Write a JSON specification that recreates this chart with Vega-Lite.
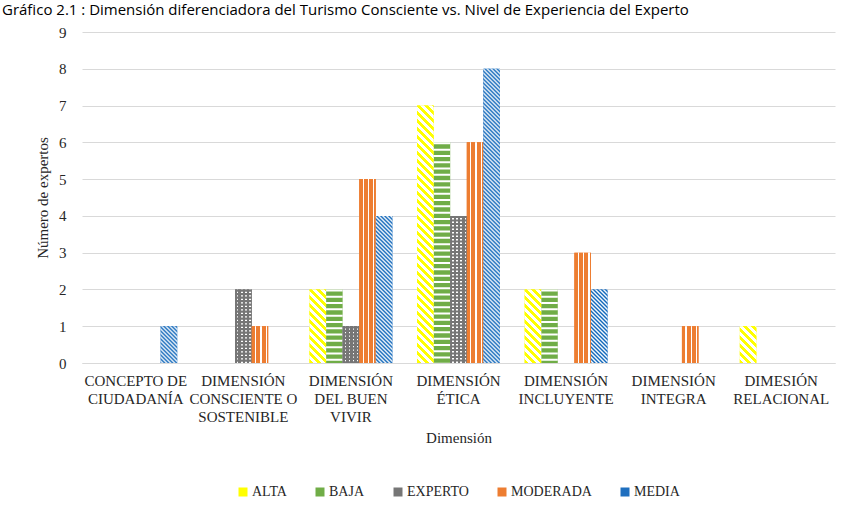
{
"$schema": "https://vega.github.io/schema/vega-lite/v6.json",
"width": 753,
"height": 331,
"autosize": {"type": "none"},
"padding": {"left": 82, "top": 32, "right": 14, "bottom": 151},
"background": "white",
"title": {"text": "Gráfico 2.1 : Dimensión diferenciadora del Turismo Consciente vs. Nivel de Experiencia del Experto", "anchor": "start", "frame": "group", "orient": "top", "font": "Open Sans", "fontSize": 15, "fontWeight": "normal", "color": "#000000", "dx": -80, "dy": 5, "offset": 0, "baseline": "alphabetic"},
"params": [
{"name": "altaStops", "value": [
{"offset":0,"color":"#ff0"},{"offset":0.0125,"color":"#ff0"},{"offset":0.0125,"color":"#fff"},{"offset":0.025,"color":"#fff"},
{"offset":0.025,"color":"#ff0"},{"offset":0.0375,"color":"#ff0"},{"offset":0.0375,"color":"#fff"},{"offset":0.05,"color":"#fff"},
{"offset":0.05,"color":"#ff0"},{"offset":0.0625,"color":"#ff0"},{"offset":0.0625,"color":"#fff"},{"offset":0.075,"color":"#fff"},
{"offset":0.075,"color":"#ff0"},{"offset":0.0875,"color":"#ff0"},{"offset":0.0875,"color":"#fff"},{"offset":0.1,"color":"#fff"},
{"offset":0.1,"color":"#ff0"},{"offset":0.1125,"color":"#ff0"},{"offset":0.1125,"color":"#fff"},{"offset":0.125,"color":"#fff"},
{"offset":0.125,"color":"#ff0"},{"offset":0.1375,"color":"#ff0"},{"offset":0.1375,"color":"#fff"},{"offset":0.15,"color":"#fff"},
{"offset":0.15,"color":"#ff0"},{"offset":0.1625,"color":"#ff0"},{"offset":0.1625,"color":"#fff"},{"offset":0.175,"color":"#fff"},
{"offset":0.175,"color":"#ff0"},{"offset":0.1875,"color":"#ff0"},{"offset":0.1875,"color":"#fff"},{"offset":0.2,"color":"#fff"},
{"offset":0.2,"color":"#ff0"},{"offset":0.2125,"color":"#ff0"},{"offset":0.2125,"color":"#fff"},{"offset":0.225,"color":"#fff"},
{"offset":0.225,"color":"#ff0"},{"offset":0.2375,"color":"#ff0"},{"offset":0.2375,"color":"#fff"},{"offset":0.25,"color":"#fff"},
{"offset":0.25,"color":"#ff0"},{"offset":0.2625,"color":"#ff0"},{"offset":0.2625,"color":"#fff"},{"offset":0.275,"color":"#fff"},
{"offset":0.275,"color":"#ff0"},{"offset":0.2875,"color":"#ff0"},{"offset":0.2875,"color":"#fff"},{"offset":0.3,"color":"#fff"},
{"offset":0.3,"color":"#ff0"},{"offset":0.3125,"color":"#ff0"},{"offset":0.3125,"color":"#fff"},{"offset":0.325,"color":"#fff"},
{"offset":0.325,"color":"#ff0"},{"offset":0.3375,"color":"#ff0"},{"offset":0.3375,"color":"#fff"},{"offset":0.35,"color":"#fff"},
{"offset":0.35,"color":"#ff0"},{"offset":0.3625,"color":"#ff0"},{"offset":0.3625,"color":"#fff"},{"offset":0.375,"color":"#fff"},
{"offset":0.375,"color":"#ff0"},{"offset":0.3875,"color":"#ff0"},{"offset":0.3875,"color":"#fff"},{"offset":0.4,"color":"#fff"},
{"offset":0.4,"color":"#ff0"},{"offset":0.4125,"color":"#ff0"},{"offset":0.4125,"color":"#fff"},{"offset":0.425,"color":"#fff"},
{"offset":0.425,"color":"#ff0"},{"offset":0.4375,"color":"#ff0"},{"offset":0.4375,"color":"#fff"},{"offset":0.45,"color":"#fff"},
{"offset":0.45,"color":"#ff0"},{"offset":0.4625,"color":"#ff0"},{"offset":0.4625,"color":"#fff"},{"offset":0.475,"color":"#fff"},
{"offset":0.475,"color":"#ff0"},{"offset":0.4875,"color":"#ff0"},{"offset":0.4875,"color":"#fff"},{"offset":0.5,"color":"#fff"},
{"offset":0.5,"color":"#ff0"},{"offset":0.5125,"color":"#ff0"},{"offset":0.5125,"color":"#fff"},{"offset":0.525,"color":"#fff"},
{"offset":0.525,"color":"#ff0"},{"offset":0.5375,"color":"#ff0"},{"offset":0.5375,"color":"#fff"},{"offset":0.55,"color":"#fff"},
{"offset":0.55,"color":"#ff0"},{"offset":0.5625,"color":"#ff0"},{"offset":0.5625,"color":"#fff"},{"offset":0.575,"color":"#fff"},
{"offset":0.575,"color":"#ff0"},{"offset":0.5875,"color":"#ff0"},{"offset":0.5875,"color":"#fff"},{"offset":0.6,"color":"#fff"},
{"offset":0.6,"color":"#ff0"},{"offset":0.6125,"color":"#ff0"},{"offset":0.6125,"color":"#fff"},{"offset":0.625,"color":"#fff"},
{"offset":0.625,"color":"#ff0"},{"offset":0.6375,"color":"#ff0"},{"offset":0.6375,"color":"#fff"},{"offset":0.65,"color":"#fff"},
{"offset":0.65,"color":"#ff0"},{"offset":0.6625,"color":"#ff0"},{"offset":0.6625,"color":"#fff"},{"offset":0.675,"color":"#fff"},
{"offset":0.675,"color":"#ff0"},{"offset":0.6875,"color":"#ff0"},{"offset":0.6875,"color":"#fff"},{"offset":0.7,"color":"#fff"},
{"offset":0.7,"color":"#ff0"},{"offset":0.7125,"color":"#ff0"},{"offset":0.7125,"color":"#fff"},{"offset":0.725,"color":"#fff"},
{"offset":0.725,"color":"#ff0"},{"offset":0.7375,"color":"#ff0"},{"offset":0.7375,"color":"#fff"},{"offset":0.75,"color":"#fff"},
{"offset":0.75,"color":"#ff0"},{"offset":0.7625,"color":"#ff0"},{"offset":0.7625,"color":"#fff"},{"offset":0.775,"color":"#fff"},
{"offset":0.775,"color":"#ff0"},{"offset":0.7875,"color":"#ff0"},{"offset":0.7875,"color":"#fff"},{"offset":0.8,"color":"#fff"},
{"offset":0.8,"color":"#ff0"},{"offset":0.8125,"color":"#ff0"},{"offset":0.8125,"color":"#fff"},{"offset":0.825,"color":"#fff"},
{"offset":0.825,"color":"#ff0"},{"offset":0.8375,"color":"#ff0"},{"offset":0.8375,"color":"#fff"},{"offset":0.85,"color":"#fff"},
{"offset":0.85,"color":"#ff0"},{"offset":0.8625,"color":"#ff0"},{"offset":0.8625,"color":"#fff"},{"offset":0.875,"color":"#fff"},
{"offset":0.875,"color":"#ff0"},{"offset":0.8875,"color":"#ff0"},{"offset":0.8875,"color":"#fff"},{"offset":0.9,"color":"#fff"}
]},
{"name": "mediaStops", "value": [
{"offset":0,"color":"#0a63b8"},{"offset":0.00625,"color":"#fff"},{"offset":0.0125,"color":"#0a63b8"},{"offset":0.01875,"color":"#fff"},{"offset":0.025,"color":"#0a63b8"},{"offset":0.03125,"color":"#fff"},{"offset":0.0375,"color":"#0a63b8"},{"offset":0.04375,"color":"#fff"},
{"offset":0.05,"color":"#0a63b8"},{"offset":0.05625,"color":"#fff"},{"offset":0.0625,"color":"#0a63b8"},{"offset":0.06875,"color":"#fff"},{"offset":0.075,"color":"#0a63b8"},{"offset":0.08125,"color":"#fff"},{"offset":0.0875,"color":"#0a63b8"},{"offset":0.09375,"color":"#fff"},
{"offset":0.1,"color":"#0a63b8"},{"offset":0.10625,"color":"#fff"},{"offset":0.1125,"color":"#0a63b8"},{"offset":0.11875,"color":"#fff"},{"offset":0.125,"color":"#0a63b8"},{"offset":0.13125,"color":"#fff"},{"offset":0.1375,"color":"#0a63b8"},{"offset":0.14375,"color":"#fff"},
{"offset":0.15,"color":"#0a63b8"},{"offset":0.15625,"color":"#fff"},{"offset":0.1625,"color":"#0a63b8"},{"offset":0.16875,"color":"#fff"},{"offset":0.175,"color":"#0a63b8"},{"offset":0.18125,"color":"#fff"},{"offset":0.1875,"color":"#0a63b8"},{"offset":0.19375,"color":"#fff"},
{"offset":0.2,"color":"#0a63b8"},{"offset":0.20625,"color":"#fff"},{"offset":0.2125,"color":"#0a63b8"},{"offset":0.21875,"color":"#fff"},{"offset":0.225,"color":"#0a63b8"},{"offset":0.23125,"color":"#fff"},{"offset":0.2375,"color":"#0a63b8"},{"offset":0.24375,"color":"#fff"},
{"offset":0.25,"color":"#0a63b8"},{"offset":0.25625,"color":"#fff"},{"offset":0.2625,"color":"#0a63b8"},{"offset":0.26875,"color":"#fff"},{"offset":0.275,"color":"#0a63b8"},{"offset":0.28125,"color":"#fff"},{"offset":0.2875,"color":"#0a63b8"},{"offset":0.29375,"color":"#fff"},
{"offset":0.3,"color":"#0a63b8"},{"offset":0.30625,"color":"#fff"},{"offset":0.3125,"color":"#0a63b8"},{"offset":0.31875,"color":"#fff"},{"offset":0.325,"color":"#0a63b8"},{"offset":0.33125,"color":"#fff"},{"offset":0.3375,"color":"#0a63b8"},{"offset":0.34375,"color":"#fff"},
{"offset":0.35,"color":"#0a63b8"},{"offset":0.35625,"color":"#fff"},{"offset":0.3625,"color":"#0a63b8"},{"offset":0.36875,"color":"#fff"},{"offset":0.375,"color":"#0a63b8"},{"offset":0.38125,"color":"#fff"},{"offset":0.3875,"color":"#0a63b8"},{"offset":0.39375,"color":"#fff"},
{"offset":0.4,"color":"#0a63b8"},{"offset":0.40625,"color":"#fff"},{"offset":0.4125,"color":"#0a63b8"},{"offset":0.41875,"color":"#fff"},{"offset":0.425,"color":"#0a63b8"},{"offset":0.43125,"color":"#fff"},{"offset":0.4375,"color":"#0a63b8"},{"offset":0.44375,"color":"#fff"},
{"offset":0.45,"color":"#0a63b8"},{"offset":0.45625,"color":"#fff"},{"offset":0.4625,"color":"#0a63b8"},{"offset":0.46875,"color":"#fff"},{"offset":0.475,"color":"#0a63b8"},{"offset":0.48125,"color":"#fff"},{"offset":0.4875,"color":"#0a63b8"},{"offset":0.49375,"color":"#fff"},
{"offset":0.5,"color":"#0a63b8"},{"offset":0.50625,"color":"#fff"},{"offset":0.5125,"color":"#0a63b8"},{"offset":0.51875,"color":"#fff"},{"offset":0.525,"color":"#0a63b8"},{"offset":0.53125,"color":"#fff"},{"offset":0.5375,"color":"#0a63b8"},{"offset":0.54375,"color":"#fff"},
{"offset":0.55,"color":"#0a63b8"},{"offset":0.55625,"color":"#fff"},{"offset":0.5625,"color":"#0a63b8"},{"offset":0.56875,"color":"#fff"},{"offset":0.575,"color":"#0a63b8"},{"offset":0.58125,"color":"#fff"},{"offset":0.5875,"color":"#0a63b8"},{"offset":0.59375,"color":"#fff"},
{"offset":0.6,"color":"#0a63b8"},{"offset":0.60625,"color":"#fff"},{"offset":0.6125,"color":"#0a63b8"},{"offset":0.61875,"color":"#fff"},{"offset":0.625,"color":"#0a63b8"},{"offset":0.63125,"color":"#fff"},{"offset":0.6375,"color":"#0a63b8"},{"offset":0.64375,"color":"#fff"},
{"offset":0.65,"color":"#0a63b8"},{"offset":0.65625,"color":"#fff"},{"offset":0.6625,"color":"#0a63b8"},{"offset":0.66875,"color":"#fff"},{"offset":0.675,"color":"#0a63b8"},{"offset":0.68125,"color":"#fff"},{"offset":0.6875,"color":"#0a63b8"},{"offset":0.69375,"color":"#fff"},
{"offset":0.7,"color":"#0a63b8"},{"offset":0.70625,"color":"#fff"},{"offset":0.7125,"color":"#0a63b8"},{"offset":0.71875,"color":"#fff"},{"offset":0.725,"color":"#0a63b8"},{"offset":0.73125,"color":"#fff"},{"offset":0.7375,"color":"#0a63b8"},{"offset":0.74375,"color":"#fff"},
{"offset":0.75,"color":"#0a63b8"},{"offset":0.75625,"color":"#fff"},{"offset":0.7625,"color":"#0a63b8"},{"offset":0.76875,"color":"#fff"},{"offset":0.775,"color":"#0a63b8"},{"offset":0.78125,"color":"#fff"},{"offset":0.7875,"color":"#0a63b8"},{"offset":0.79375,"color":"#fff"},
{"offset":0.8,"color":"#0a63b8"},{"offset":0.80625,"color":"#fff"},{"offset":0.8125,"color":"#0a63b8"},{"offset":0.81875,"color":"#fff"},{"offset":0.825,"color":"#0a63b8"},{"offset":0.83125,"color":"#fff"},{"offset":0.8375,"color":"#0a63b8"},{"offset":0.84375,"color":"#fff"},
{"offset":0.85,"color":"#0a63b8"},{"offset":0.85625,"color":"#fff"},{"offset":0.8625,"color":"#0a63b8"},{"offset":0.86875,"color":"#fff"},{"offset":0.875,"color":"#0a63b8"},{"offset":0.88125,"color":"#fff"},{"offset":0.8875,"color":"#0a63b8"},{"offset":0.89375,"color":"#fff"},
{"offset":0.9,"color":"#0a63b8"},{"offset":0.90625,"color":"#fff"},{"offset":0.9125,"color":"#0a63b8"},{"offset":0.91875,"color":"#fff"},{"offset":0.925,"color":"#0a63b8"},{"offset":0.93125,"color":"#fff"},{"offset":0.9375,"color":"#0a63b8"},{"offset":0.94375,"color":"#fff"},
{"offset":0.95,"color":"#0a63b8"},{"offset":0.95625,"color":"#fff"},{"offset":0.9625,"color":"#0a63b8"},{"offset":0.96875,"color":"#fff"},{"offset":0.975,"color":"#0a63b8"},{"offset":0.98125,"color":"#fff"},{"offset":0.9875,"color":"#0a63b8"},{"offset":0.99375,"color":"#fff"},
{"offset":1,"color":"#0a63b8"}
]}
],
"data": {"values": [
{"dim": "CONCEPTO DE CIUDADANÍA", "nivel": "MEDIA", "n": 1},
{"dim": "DIMENSIÓN CONSCIENTE O SOSTENIBLE", "nivel": "EXPERTO", "n": 2},
{"dim": "DIMENSIÓN CONSCIENTE O SOSTENIBLE", "nivel": "MODERADA", "n": 1},
{"dim": "DIMENSIÓN DEL BUEN VIVIR", "nivel": "ALTA", "n": 2},
{"dim": "DIMENSIÓN DEL BUEN VIVIR", "nivel": "BAJA", "n": 2},
{"dim": "DIMENSIÓN DEL BUEN VIVIR", "nivel": "EXPERTO", "n": 1},
{"dim": "DIMENSIÓN DEL BUEN VIVIR", "nivel": "MODERADA", "n": 5},
{"dim": "DIMENSIÓN DEL BUEN VIVIR", "nivel": "MEDIA", "n": 4},
{"dim": "DIMENSIÓN ÉTICA", "nivel": "ALTA", "n": 7},
{"dim": "DIMENSIÓN ÉTICA", "nivel": "BAJA", "n": 6},
{"dim": "DIMENSIÓN ÉTICA", "nivel": "EXPERTO", "n": 4},
{"dim": "DIMENSIÓN ÉTICA", "nivel": "MODERADA", "n": 6},
{"dim": "DIMENSIÓN ÉTICA", "nivel": "MEDIA", "n": 8},
{"dim": "DIMENSIÓN INCLUYENTE", "nivel": "ALTA", "n": 2},
{"dim": "DIMENSIÓN INCLUYENTE", "nivel": "BAJA", "n": 2},
{"dim": "DIMENSIÓN INCLUYENTE", "nivel": "MODERADA", "n": 3},
{"dim": "DIMENSIÓN INCLUYENTE", "nivel": "MEDIA", "n": 2},
{"dim": "DIMENSIÓN INTEGRA", "nivel": "MODERADA", "n": 1},
{"dim": "DIMESIÓN RELACIONAL", "nivel": "ALTA", "n": 1}
]},
"encoding": {
"x": {"field": "dim", "type": "nominal", "title": "Dimensión",
  "scale": {"domain": ["CONCEPTO DE CIUDADANÍA", "DIMENSIÓN CONSCIENTE O SOSTENIBLE", "DIMENSIÓN DEL BUEN VIVIR", "DIMENSIÓN ÉTICA", "DIMENSIÓN INCLUYENTE", "DIMENSIÓN INTEGRA", "DIMESIÓN RELACIONAL"], "paddingInner": 0.23, "paddingOuter": 0.115},
  "axis": {"labelAngle": 0, "labelPadding": 10, "labelLineHeight": 18, "labelLimit": 0, "labelOverlap": false, "grid": false, "titlePadding": 6, "domainColor": "#d9d9d9",
    "labelExpr": "({'CONCEPTO DE CIUDADANÍA': ['CONCEPTO DE', 'CIUDADANÍA'], 'DIMENSIÓN CONSCIENTE O SOSTENIBLE': ['DIMENSIÓN', 'CONSCIENTE O', 'SOSTENIBLE'], 'DIMENSIÓN DEL BUEN VIVIR': ['DIMENSIÓN', 'DEL BUEN', 'VIVIR'], 'DIMENSIÓN ÉTICA': ['DIMENSIÓN', 'ÉTICA'], 'DIMENSIÓN INCLUYENTE': ['DIMENSIÓN', 'INCLUYENTE'], 'DIMENSIÓN INTEGRA': ['DIMENSIÓN', 'INTEGRA'], 'DIMESIÓN RELACIONAL': ['DIMESIÓN', 'RELACIONAL']})[datum.value]"}},
"xOffset": {"field": "nivel", "type": "nominal", "scale": {"domain": ["ALTA", "BAJA", "EXPERTO", "MODERADA", "MEDIA"], "paddingInner": 0, "paddingOuter": 0}},
"y": {"field": "n", "type": "quantitative", "title": "Número de expertos",
  "scale": {"domain": [0, 9], "nice": false},
  "axis": {"values": [0, 1, 2, 3, 4, 5, 6, 7, 8, 9], "labelPadding": 16, "domain": false, "grid": true, "gridColor": "#d9d9d9", "titlePadding": 8}}
},
"layer": [
{"mark": {"type": "bar"},
 "encoding": {"color": {"field": "nivel", "type": "nominal",
   "scale": {"domain": ["ALTA", "BAJA", "EXPERTO", "MODERADA", "MEDIA"], "range": ["#ffff00", "#70ad47", "#767676", "#ed7d31", "#1f6fbf"]},
   "legend": {"orient": "none", "legendX": 154, "legendY": 453, "direction": "horizontal", "columns": 5, "title": null, "symbolType": "square", "symbolSize": 81, "symbolStrokeWidth": 0, "labelFont": "Times New Roman, Liberation Serif, serif", "labelFontSize": 14, "labelColor": "#262626", "columnPadding": 26, "labelOffset": 2}}}},
{"transform": [{"filter": "datum.nivel === 'ALTA'"}],
 "mark": {"type": "bar", "fill": {"expr": "{gradient: 'linear', x1: 0, y1: 1, x2: bandwidth('xOffset') * 320 / (pow(bandwidth('xOffset'), 2) + pow(scale('y', 0) - scale('y', datum.n), 2)), y2: 1 - (scale('y', 0) - scale('y', datum.n)) * 320 / (pow(bandwidth('xOffset'), 2) + pow(scale('y', 0) - scale('y', datum.n), 2)), stops: altaStops}"}}},
{"transform": [{"filter": "datum.nivel === 'BAJA'"}],
 "mark": {"type": "rule", "stroke": "#ffffff", "strokeDash": [2, 4.3], "strokeWidth": {"expr": "bandwidth('xOffset')"}},
 "encoding": {"y2": {"datum": 0}}},
{"transform": [{"filter": "datum.nivel === 'EXPERTO'"}],
 "mark": {"type": "bar", "fill": {"gradient": "linear", "x1": 0, "y1": 0, "x2": 1, "y2": 0, "stops": [
   {"offset": 0, "color": "#767676"}, {"offset": 0.12, "color": "#767676"}, {"offset": 0.12, "color": "#ffffff"}, {"offset": 0.2, "color": "#ffffff"},
   {"offset": 0.2, "color": "#767676"}, {"offset": 0.37, "color": "#767676"}, {"offset": 0.37, "color": "#ffffff"}, {"offset": 0.45, "color": "#ffffff"},
   {"offset": 0.45, "color": "#767676"}, {"offset": 0.62, "color": "#767676"}, {"offset": 0.62, "color": "#ffffff"}, {"offset": 0.7, "color": "#ffffff"},
   {"offset": 0.7, "color": "#767676"}, {"offset": 0.87, "color": "#767676"}, {"offset": 0.87, "color": "#ffffff"}, {"offset": 0.95, "color": "#ffffff"},
   {"offset": 0.95, "color": "#767676"}, {"offset": 1, "color": "#767676"}]}}},
{"transform": [{"filter": "datum.nivel === 'EXPERTO'"}],
 "mark": {"type": "rule", "stroke": "#767676", "strokeDash": [2.2, 1.3], "strokeWidth": {"expr": "bandwidth('xOffset')"}},
 "encoding": {"y2": {"datum": 0}}},
{"transform": [{"filter": "datum.nivel === 'MODERADA'"}],
 "mark": {"type": "bar", "fill": {"gradient": "linear", "x1": 0, "y1": 0, "x2": 1, "y2": 0, "stops": [
   {"offset": 0, "color": "#ed7d31"}, {"offset": 0.2, "color": "#ed7d31"}, {"offset": 0.2, "color": "#ffffff"}, {"offset": 0.28, "color": "#ffffff"},
   {"offset": 0.28, "color": "#ed7d31"}, {"offset": 0.52, "color": "#ed7d31"}, {"offset": 0.52, "color": "#ffffff"}, {"offset": 0.6, "color": "#ffffff"},
   {"offset": 0.6, "color": "#ed7d31"}, {"offset": 0.84, "color": "#ed7d31"}, {"offset": 0.84, "color": "#ffffff"}, {"offset": 0.92, "color": "#ffffff"},
   {"offset": 0.92, "color": "#ed7d31"}, {"offset": 1, "color": "#ed7d31"}]}}},
{"transform": [{"filter": "datum.nivel === 'MEDIA'"}],
 "mark": {"type": "bar", "fill": {"expr": "{gradient: 'linear', x1: 0, y1: 1, x2: bandwidth('xOffset') * 320 / (pow(bandwidth('xOffset'), 2) + pow(scale('y', 0) - scale('y', datum.n), 2)), y2: 1 - (scale('y', 0) - scale('y', datum.n)) * 320 / (pow(bandwidth('xOffset'), 2) + pow(scale('y', 0) - scale('y', datum.n), 2)), stops: mediaStops}"}}}
],
"config": {
"view": {"stroke": null},
"font": "Times New Roman, Liberation Serif, serif",
"axis": {"labelFont": "Times New Roman, Liberation Serif, serif", "labelFontSize": 15, "labelColor": "#262626", "titleFont": "Times New Roman, Liberation Serif, serif", "titleFontSize": 15, "titleFontWeight": "normal", "titleColor": "#262626", "ticks": false, "domainColor": "#d9d9d9", "gridColor": "#d9d9d9"}
}
}
